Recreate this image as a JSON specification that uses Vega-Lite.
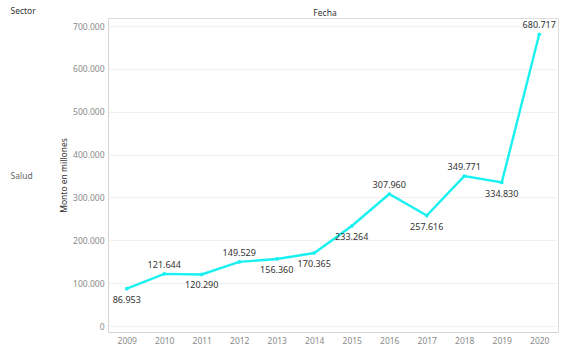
{
  "$schema": "https://vega.github.io/schema/vega-lite/v6.json",
  "autosize": {"type": "none"},
  "padding": {"left": 108, "top": 18, "right": 9, "bottom": 22},
  "width": 450,
  "height": 314,
  "title": {"text": "Fecha", "anchor": "middle", "frame": "group", "fontSize": 8.5, "fontWeight": "normal", "color": "#333333", "offset": -11, "dx": -8},
  "config": {
    "locale": {"number": {"decimal": ",", "thousands": ".", "grouping": [3], "currency": ["$", ""]}},
    "font": "Noto Sans",
    "view": {"stroke": "#dcdcdc"},
    "axis": {"labelColor": "#8a8a8a", "labelFontSize": 8.5, "domainColor": "#d4d4d4", "gridColor": "#f1f1f1", "tickColor": "#f1f1f1", "titleColor": "#333333", "titleFontSize": 8.5, "titleFontWeight": "normal"}
  },
  "data": {"values": [
    {"Sector": "Salud", "Fecha": "2009", "Monto": 86953},
    {"Sector": "Salud", "Fecha": "2010", "Monto": 121644},
    {"Sector": "Salud", "Fecha": "2011", "Monto": 120290},
    {"Sector": "Salud", "Fecha": "2012", "Monto": 149529},
    {"Sector": "Salud", "Fecha": "2013", "Monto": 156360},
    {"Sector": "Salud", "Fecha": "2014", "Monto": 170365},
    {"Sector": "Salud", "Fecha": "2015", "Monto": 233264},
    {"Sector": "Salud", "Fecha": "2016", "Monto": 307960},
    {"Sector": "Salud", "Fecha": "2017", "Monto": 257616},
    {"Sector": "Salud", "Fecha": "2018", "Monto": 349771},
    {"Sector": "Salud", "Fecha": "2019", "Monto": 334830},
    {"Sector": "Salud", "Fecha": "2020", "Monto": 680717}
  ]},
  "encoding": {
    "x": {"field": "Fecha", "type": "ordinal", "title": null, "axis": {"labelAngle": 0, "grid": false, "ticks": false, "domain": true, "labelPadding": 4}}
  },
  "layer": [
    {
      "encoding": {
        "y": {"field": "Monto", "type": "quantitative", "title": "Monto en millones", "scale": {"domain": [-14000, 718667], "nice": false, "zero": false}, "axis": {"orient": "left", "values": [0, 100000, 200000, 300000, 400000, 500000, 600000, 700000], "format": ",.0f", "ticks": false, "grid": true, "labelPadding": 4, "titlePadding": 4}}
      },
      "layer": [
        {"mark": {"type": "line", "color": "#19f0f0", "strokeWidth": 2.4, "point": {"filled": true, "size": 14, "color": "#19f0f0"}}},
        {"transform": [{"filter": {"field": "Fecha", "oneOf": ["2010", "2012", "2016", "2018", "2020"]}}],
         "mark": {"type": "text", "dy": -9, "fontSize": 9, "color": "#333333"},
         "encoding": {"text": {"field": "Monto", "type": "quantitative", "format": ",.0f"}}},
        {"transform": [{"filter": {"field": "Fecha", "oneOf": ["2009", "2011", "2013", "2014", "2015", "2017", "2019"]}}],
         "mark": {"type": "text", "dy": 11, "fontSize": 9, "color": "#333333"},
         "encoding": {"text": {"field": "Monto", "type": "quantitative", "format": ",.0f"}}}
      ]
    },
    {
      "mark": {"type": "point", "opacity": 0},
      "encoding": {
        "y": {"field": "Sector", "type": "nominal", "title": "Sector", "axis": {"orient": "left", "offset": 90, "domain": false, "ticks": false, "grid": false, "labelAlign": "left", "labelPadding": 8, "labelColor": "#666666", "titleAngle": 0, "titleAlign": "left", "titleBaseline": "alphabetic", "titleX": -8, "titleY": -5, "titleFontSize": 8.5}}
      }
    }
  ],
  "resolve": {"scale": {"y": "independent"}, "axis": {"y": "independent"}}
}
